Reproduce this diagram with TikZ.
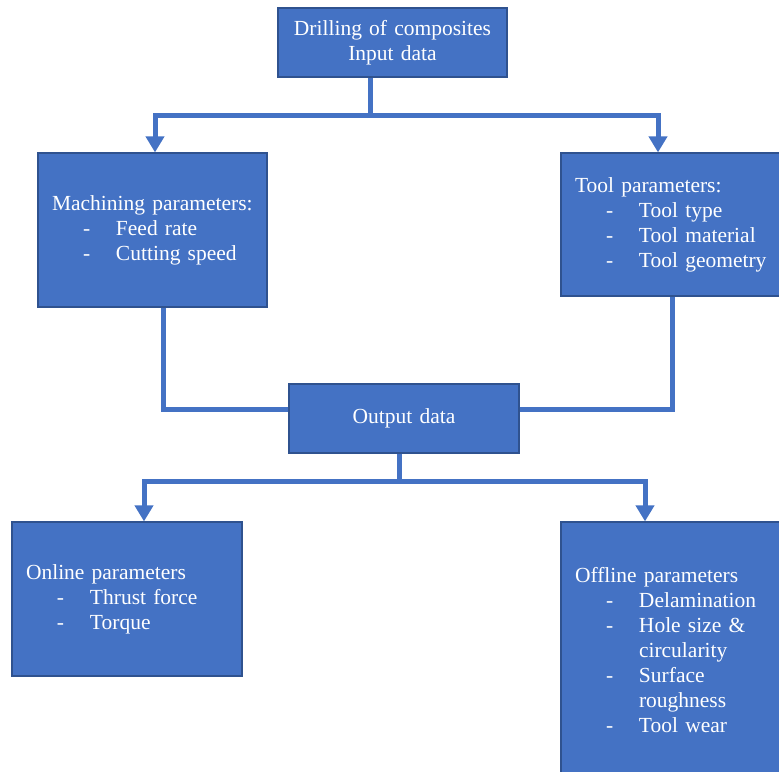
\documentclass[tikz,border=0pt]{standalone}
\usepackage{fontspec}
\setmainfont{Liberation Serif}[WordSpace=0.8]
\usetikzlibrary{arrows.meta}

\definecolor{boxblue}{RGB}{68,114,196}
\definecolor{boxedge}{RGB}{47,82,143}

\newcommand{\itm}[1]{\hspace*{31pt}\makebox[33pt][l]{-}#1}

\tikzset{every picture/.style={line width=0.75pt}}
\tikzset{
  boxnode/.style={fill=boxblue, draw=boxedge, line width=1.2pt, text=white,
    font=\fontsize{21.5}{25}\selectfont, inner xsep=14pt, inner ysep=4pt,
    text width=201pt, anchor=center},
  link/.style={draw=boxblue, line width=5pt},
  arr/.style={link, -{Triangle[width=18pt,length=16pt]}}
}

\begin{document}
\begin{tikzpicture}[x=1pt,y=1pt,yscale=-1]
\useasboundingbox (0,0) rectangle (779,771);
\clip (0,0) rectangle (779,771);

%Shape: Rectangle [top]
\node (top) [boxnode, align=center, minimum height=69pt] at (392.5,42.5)
  {Drilling of composites\\Input data};
%Shape: Rectangle [machining]
\node (mach) [boxnode, align=left, minimum height=154pt] at (152.5,230)
  {Machining parameters:\\\itm{Feed rate}\\\itm{Cutting speed}};
%Shape: Rectangle [tool]
\node (tool) [boxnode, align=left, minimum height=143pt] at (675.5,224.5)
  {Tool parameters:\\\itm{Tool type}\\\itm{Tool material}\\\itm{Tool geometry}};
%Shape: Rectangle [output]
\node (out) [boxnode, align=center, text width=202pt, minimum height=69pt] at (404,418.5)
  {Output data};
%Shape: Rectangle [online]
\node (online) [boxnode, align=left, text width=202pt, minimum height=154pt] at (127,599)
  {Online parameters\\\itm{Thrust force}\\\itm{Torque}};
%Shape: Rectangle [offline]
\node (offline) [boxnode, align=left, minimum height=256pt] at (675.5,650)
  {Offline parameters\\\itm{Delamination}\\\itm{Hole size \&}\\\hspace*{64pt}circularity\\
   \itm{Surface}\\\hspace*{64pt}roughness\\\itm{Tool wear}};

%Junctions
\coordinate (inSplit) at (370,115);
\coordinate (outJoin) at (399,409);
\coordinate (outSplit) at (399,481);

%Connectors: input data
\draw [link] (top.south -| inSplit) -- (inSplit);
\draw [arr] (inSplit) -| ([xshift=2.5pt]mach.north);
\draw [arr] (inSplit) -| ([xshift=-17.5pt]tool.north);
%Connectors: into output data
\draw [link] ([xshift=10.5pt]mach.south) |- (outJoin -| out.west);
\draw [link] ([xshift=-3.5pt]tool.south) |- (outJoin -| out.east);
%Connectors: output data
\draw [link] (out.south -| outSplit) -- (outSplit);
\draw [arr] (outSplit) -| ([xshift=17pt]online.north);
\draw [arr] (outSplit) -| ([xshift=-30.5pt]offline.north);

\end{tikzpicture}
\end{document}
